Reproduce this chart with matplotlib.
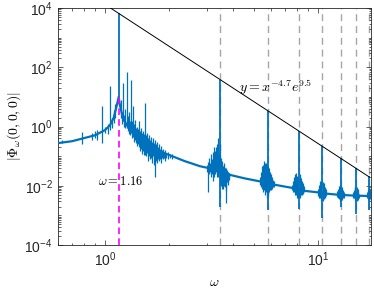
import matplotlib
matplotlib.use("Agg")
import matplotlib.pyplot as plt
from matplotlib.ticker import LogLocator, NullFormatter, FixedLocator, FixedFormatter
import numpy as np

plt.rcParams["font.family"] = ["Liberation Sans", "DejaVu Sans"]
plt.rcParams["mathtext.fontset"] = "cm"

# smooth part of the spectrum |Phi_w(0,0,0)|
base_omega = [0.598, 0.70, 0.80, 0.90, 1.00, 1.056, 1.10, 1.138, 1.16, 1.176,
              1.215, 1.31, 1.46, 1.72, 2.02, 2.37, 2.79, 3.05, 3.30, 3.60,
              3.90, 4.50, 5.50, 6.20, 7.70, 8.60, 10.0, 10.8, 12.4, 14.6, 17.7]
base_phi = [0.275, 0.32, 0.41, 0.51, 0.76, 1.1, 2.0, 5.3, 10.0, 5.3,
            1.9, 0.76, 0.35, 0.17, 0.107, 0.068, 0.046, 0.040, 0.034, 0.027,
            0.023, 0.018, 0.0135, 0.011, 0.0083, 0.0068, 0.0060, 0.0055, 0.0050, 0.0047, 0.0045]

# harmonic peaks (odd multiples of the driving frequency)
harm_omega = [1.16, 3.48, 5.80, 8.12, 10.44, 12.76, 15.08, 17.4]
harm_top = [6650, 38, 3.44, 0.71, 0.218, 0.085, 0.039, 0.0215]
harm_bottom = [10.0, 0.0019, 0.0015, 0.0017, 0.0008, 0.0019, 0.0011, 0.0015]

# noisy excursions (omega, low, high) around each peak
noise_res_left = [(0.63, 0.27, 0.36), (0.777, 0.25, 0.65), (0.869, 0.35, 0.62), (0.898, 0.40, 0.70),
                  (0.917, 0.36, 0.75), (0.965, 0.28, 5.0), (1.00, 0.6, 1.0), (1.03, 0.55, 1.2),
                  (1.056, 0.75, 23.0), (1.08, 0.9, 2.0), (1.10, 1.3, 3.6), (1.12, 2.0, 6.0)]
noise_res_right = [(1.19, 2.0, 8.0), (1.20, 1.2, 3.0), (1.215, 1.5, 29.0), (1.23, 1.0, 2.5),
                   (1.245, 0.9, 4.0), (1.268, 0.9, 70.0), (1.28, 0.7, 2.2), (1.295, 0.55, 3.0),
                   (1.31, 0.5, 1.6), (1.325, 0.6, 37.0), (1.34, 0.4, 1.5), (1.354, 0.45, 5.0),
                   (1.37, 0.3, 1.2), (1.383, 0.35, 1.65), (1.40, 0.28, 0.9), (1.413, 0.22, 1.0),
                   (1.43, 0.25, 0.8), (1.445, 0.2, 1.5), (1.46, 0.15, 0.7), (1.476, 0.18, 0.9),
                   (1.49, 0.12, 0.6), (1.508, 0.15, 0.7), (1.525, 0.11, 0.55), (1.541, 0.11, 6.2),
                   (1.555, 0.10, 0.5), (1.574, 0.13, 0.6), (1.59, 0.07, 0.4), (1.609, 0.10, 0.5),
                   (1.625, 0.08, 0.35), (1.644, 0.09, 0.45), (1.66, 0.06, 0.3), (1.68, 0.10, 0.4),
                   (1.70, 0.05, 0.28), (1.717, 0.02, 0.35), (1.735, 0.07, 0.25), (1.754, 0.06, 0.3),
                   (1.775, 0.08, 0.2), (1.793, 0.07, 0.25), (1.81, 0.08, 0.18), (1.832, 0.06, 0.22),
                   (1.85, 0.09, 0.16), (1.871, 0.08, 0.18), (1.89, 0.09, 0.14), (1.913, 0.07, 0.16),
                   (1.94, 0.09, 0.13), (1.976, 0.08, 0.14), (2.02, 0.09, 0.12), (2.064, 0.08, 0.12)]
noise_h3 = [(3.00, 0.03, 0.05), (3.045, 0.0062, 0.064), (3.08, 0.025, 0.09), (3.112, 0.03, 0.06),
            (3.15, 0.02, 0.12), (3.18, 0.025, 0.08), (3.215, 0.015, 0.14), (3.249, 0.02, 0.2),
            (3.285, 0.025, 0.15), (3.32, 0.03, 0.2), (3.355, 0.02, 0.25), (3.392, 0.02, 0.4),
            (3.43, 0.03, 0.12), (3.455, 0.015, 0.25), (3.51, 0.01, 0.09), (3.541, 0.012, 0.07),
            (3.56, 0.008, 0.05), (3.58, 0.008, 0.045), (3.60, 0.012, 0.06), (3.62, 0.01, 0.05),
            (3.64, 0.009, 0.04), (3.66, 0.015, 0.04), (3.68, 0.0026, 0.035), (3.70, 0.0065, 0.04),
            (3.72, 0.013, 0.03), (3.74, 0.015, 0.035), (3.76, 0.011, 0.03), (3.78, 0.012, 0.03),
            (3.80, 0.016, 0.028), (3.82, 0.018, 0.028)]
noise_h5 = [(5.34, 0.011, 0.02), (5.40, 0.009, 0.03), (5.46, 0.008, 0.045), (5.52, 0.006, 0.05),
            (5.58, 0.007, 0.07), (5.64, 0.005, 0.06), (5.70, 0.006, 0.06), (5.75, 0.004, 0.05),
            (5.85, 0.005, 0.045), (5.89, 0.006, 0.04), (5.95, 0.007, 0.03), (6.01, 0.007, 0.025),
            (6.08, 0.008, 0.02), (6.15, 0.009, 0.016), (6.21, 0.009, 0.014)]
noise_h7 = [(7.55, 0.007, 0.011), (7.64, 0.006, 0.015), (7.72, 0.006, 0.02), (7.80, 0.005, 0.025),
            (7.88, 0.005, 0.027), (7.96, 0.004, 0.022), (8.05, 0.004, 0.02), (8.18, 0.004, 0.022),
            (8.23, 0.0045, 0.025), (8.32, 0.005, 0.018), (8.41, 0.005, 0.015), (8.50, 0.0055, 0.012),
            (8.60, 0.006, 0.01)]
noise_h9 = [(10.0, 0.0045, 0.008), (10.11, 0.004, 0.011), (10.22, 0.004, 0.014), (10.33, 0.003, 0.013),
            (10.55, 0.003, 0.013), (10.67, 0.0035, 0.012), (10.78, 0.004, 0.009), (10.9, 0.0045, 0.008)]
noise_h11 = [(12.28, 0.0042, 0.0065), (12.42, 0.0038, 0.008), (12.55, 0.0035, 0.01), (12.66, 0.003, 0.011),
             (12.86, 0.003, 0.01), (12.96, 0.0033, 0.009), (13.1, 0.0038, 0.007), (13.24, 0.004, 0.006)]
noise_h13 = [(14.6, 0.004, 0.006), (14.72, 0.0038, 0.007), (14.84, 0.0035, 0.009), (14.96, 0.003, 0.01),
             (15.2, 0.003, 0.009), (15.33, 0.0033, 0.008), (15.45, 0.0038, 0.0065), (15.57, 0.004, 0.0055)]
noise_h15 = [(16.9, 0.004, 0.006), (17.1, 0.0036, 0.008), (17.25, 0.003, 0.009), (17.55, 0.0035, 0.007)]

# power-law guide y = x^-4.7 e^9.5
fit_exponent = -4.7
fit_log_prefactor = 9.5
fit_omega = [0.6, 17.4]

blue = "#0072BD"
fig, ax = plt.subplots(figsize=(3.74, 2.89), dpi=100)
fig.subplots_adjust(left=0.154, right=0.992, bottom=0.152, top=0.972)

for w in harm_omega[1:]:
    ax.plot([w, w], [1e-4, 1e4], color="#a6a6a6", lw=1.0, ls=(0, (5, 3.5)), zorder=1)

ax.plot(base_omega, base_phi, color=blue, lw=1.6, zorder=3)
for cluster in [noise_res_left, noise_res_right, noise_h3, noise_h5, noise_h7,
                noise_h9, noise_h11, noise_h13, noise_h15]:
    w, lo, hi = zip(*cluster)
    ax.vlines(w, lo, hi, color=blue, lw=0.9, zorder=3)
ax.vlines(harm_omega, harm_bottom, harm_top, color=blue, lw=1.3, zorder=3)

ax.plot([harm_omega[0], harm_omega[0]], [1e-4, base_phi[8]], color="#ff00ff",
        lw=1.2, ls=(0, (4, 2.5)), zorder=4)

fw = np.array(fit_omega)
ax.plot(fw, fw ** fit_exponent * np.exp(fit_log_prefactor), color="black", lw=0.7, zorder=5)

ax.text(4.25, 21, r"$y=x^{-4.7}e^{9.5}$", fontsize=10, ha="left", va="center", zorder=6)
ax.text(0.925, 0.0143, r"$\omega=1.16$", fontsize=9, ha="left", va="center", zorder=6)

ax.set_xscale("log")
ax.set_yscale("log")
ax.set_xlim(0.6, 17.7)
ax.set_ylim(1e-4, 1e4)

ax.yaxis.set_major_locator(FixedLocator([1e-4, 1e-2, 1e0, 1e2, 1e4]))
ax.yaxis.set_major_formatter(FixedFormatter([r"$\mathdefault{10^{-4}}$", r"$\mathdefault{10^{-2}}$",
                                             r"$\mathdefault{10^{0}}$", r"$\mathdefault{10^{2}}$",
                                             r"$\mathdefault{10^{4}}$"]))
ax.yaxis.set_minor_locator(LogLocator(base=10, subs=np.arange(1, 10), numticks=20))
ax.yaxis.set_minor_formatter(NullFormatter())
ax.xaxis.set_major_locator(FixedLocator([1e0, 1e1]))
ax.xaxis.set_major_formatter(FixedFormatter([r"$\mathdefault{10^{0}}$", r"$\mathdefault{10^{1}}$"]))
ax.xaxis.set_minor_locator(LogLocator(base=10, subs=np.arange(2, 10), numticks=20))
ax.xaxis.set_minor_formatter(NullFormatter())

ax.tick_params(which="both", direction="in", top=True, right=True, colors="#262626",
               labelsize=10, width=0.5)
ax.tick_params(which="major", length=3.5)
ax.tick_params(which="minor", length=1.8)
for s in ax.spines.values():
    s.set_linewidth(0.6)
    s.set_color("#262626")

ax.set_xlabel(r"$\omega$", fontsize=10, labelpad=5)
ax.set_ylabel(r"$|\Phi_\omega(0,0,0)|$", fontsize=10, labelpad=1)

fig.savefig("out.png", dpi=100)
